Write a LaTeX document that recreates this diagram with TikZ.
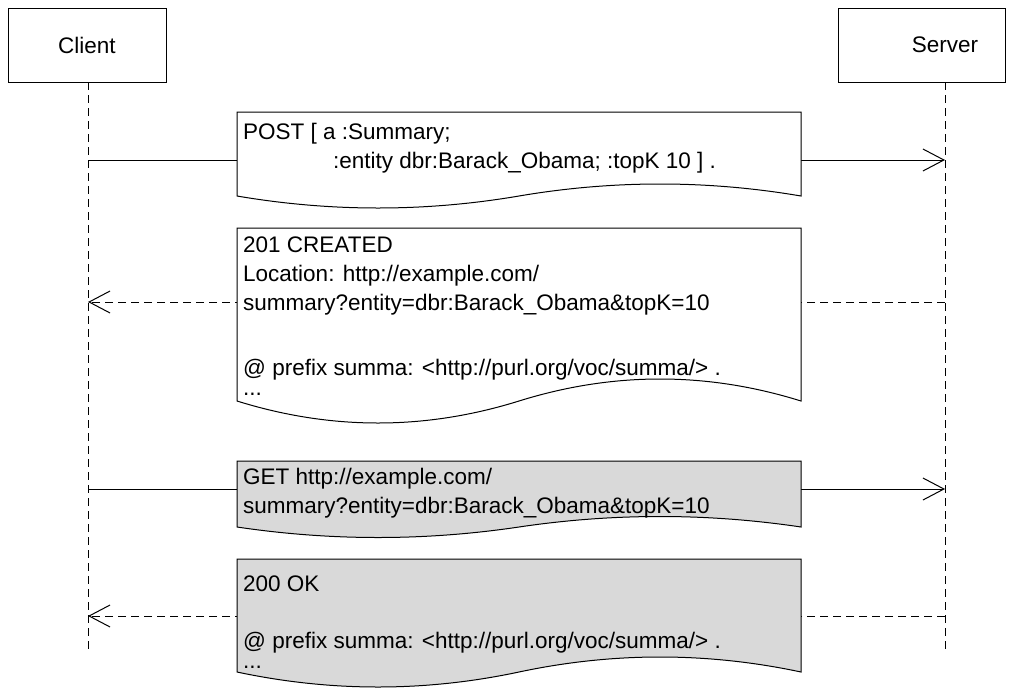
\documentclass[tikz,border=0pt]{standalone}
\usepackage{fontspec}
\setmainfont{Liberation Sans}
\usetikzlibrary{arrows.meta}

% document shape: top-left (#1,#2), width #3, corner height #4 (y of the
% bottom corners), wave amplitude #5, fill #6
\newcommand\docpath[6]{%
  \pgfmathsetmacro\dxa{#1}\pgfmathsetmacro\dya{#2}%
  \pgfmathsetmacro\dw{#3}\pgfmathsetmacro\yc{#4}%
  \pgfmathsetmacro\xr{\dxa+\dw}\pgfmathsetmacro\xm{\dxa+\dw/2}%
  \pgfmathsetmacro\xa{\dxa+5*\dw/6}\pgfmathsetmacro\xb{\dxa+2*\dw/3}%
  \pgfmathsetmacro\xc{\dxa+\dw/3}\pgfmathsetmacro\xd{\dxa+\dw/6}%
  \pgfmathsetmacro\yu{\yc-4/3*#5}\pgfmathsetmacro\yl{\yc+4/3*#5}%
  \draw[docline,fill=#6] (\dxa,\dya) -- (\xr,\dya) -- (\xr,\yc)
    .. controls (\xa,\yu) and (\xb,\yu) .. (\xm,\yc)
    .. controls (\xc,\yl) and (\xd,\yl) .. (\dxa,\yc) -- cycle;}

\tikzset{
  every node/.style={font=\fontsize{22.5}{29}\selectfont},
  headbox/.style={draw, line width=1pt, minimum height=74pt, inner sep=0pt},
  lifeline/.style={line width=1pt, dash pattern=on 8pt off 5pt},
  docline/.style={line width=1pt},
  % anchored at the baseline of the last line
  doctext/.style={anchor=base west, align=left, inner sep=0pt},
  callmsg/.style={line width=1pt, -{Straight Barb[length=21pt,width=22pt,line width=1pt]}},
  replymsg/.style={line width=1pt, dash pattern=on 8pt off 5pt,
    -{Straight Barb[length=21pt,width=22pt,line width=1pt]}},
}
\definecolor{docgray}{HTML}{D9D9D9}

\begin{document}
\begin{tikzpicture}[x=1pt,y=-1pt]
\useasboundingbox (0,0) rectangle (1013,689);

% participants
\node[headbox, minimum width=158pt] (client) at (87,45) {Client};
\node[headbox, minimum width=167pt] (server) at (921.5,45) {};
\node (serverlabel) at (945,45) {Server};

% lifelines
\coordinate (clientTop) at (88,82);
\coordinate (clientEnd) at (88,650);
\coordinate (serverTop) at (945,82);
\coordinate (serverEnd) at (945,650);
\draw[lifeline] (clientTop) -- (clientEnd);
\draw[lifeline] (serverTop) -- (serverEnd);

% message anchor points on the lifelines
\coordinate (c1) at (88,160);  \coordinate (s1) at (945,160);
\coordinate (c2) at (88,302);  \coordinate (s2) at (945,302);
\coordinate (c3) at (88,489);  \coordinate (s3) at (945,489);
\coordinate (c4) at (88,616);  \coordinate (s4) at (945,616);

% messages
\draw[callmsg]  (c1) -- (s1);
\draw[replymsg] (s2) -- (c2);
\draw[callmsg]  (c3) -- (s3);
\draw[replymsg] (s4) -- (c4);

% message bodies
\docpath{237}{112}{564}{196}{12}{white}
\node[doctext] (post) at (243,168)
  {POST [ a :Summary;\\\hspace*{90pt}:entity dbr:Barack\_Obama; :topK 10 ] .};

\docpath{237}{228}{564}{401}{22}{white}
\node[doctext] (created) at (243,395)
  {201 CREATED\\Location: http://example.com/\\summary?entity=dbr:Barack\_Obama\&topK=10\\[36pt]@ prefix summa: <http://purl.org/voc/summa/> .\\[-9pt]...};

\docpath{237}{461}{564}{527}{10.5}{docgray}
\node[doctext] (get) at (243,513)
  {GET http://example.com/\\summary?entity=dbr:Barack\_Obama\&topK=10};

\docpath{237}{559}{564}{672}{15}{docgray}
\node[doctext] (ok) at (243,668)
  {200 OK\\[28pt]@ prefix summa: <http://purl.org/voc/summa/> .\\[-9pt]...};
\end{tikzpicture}
\end{document}
